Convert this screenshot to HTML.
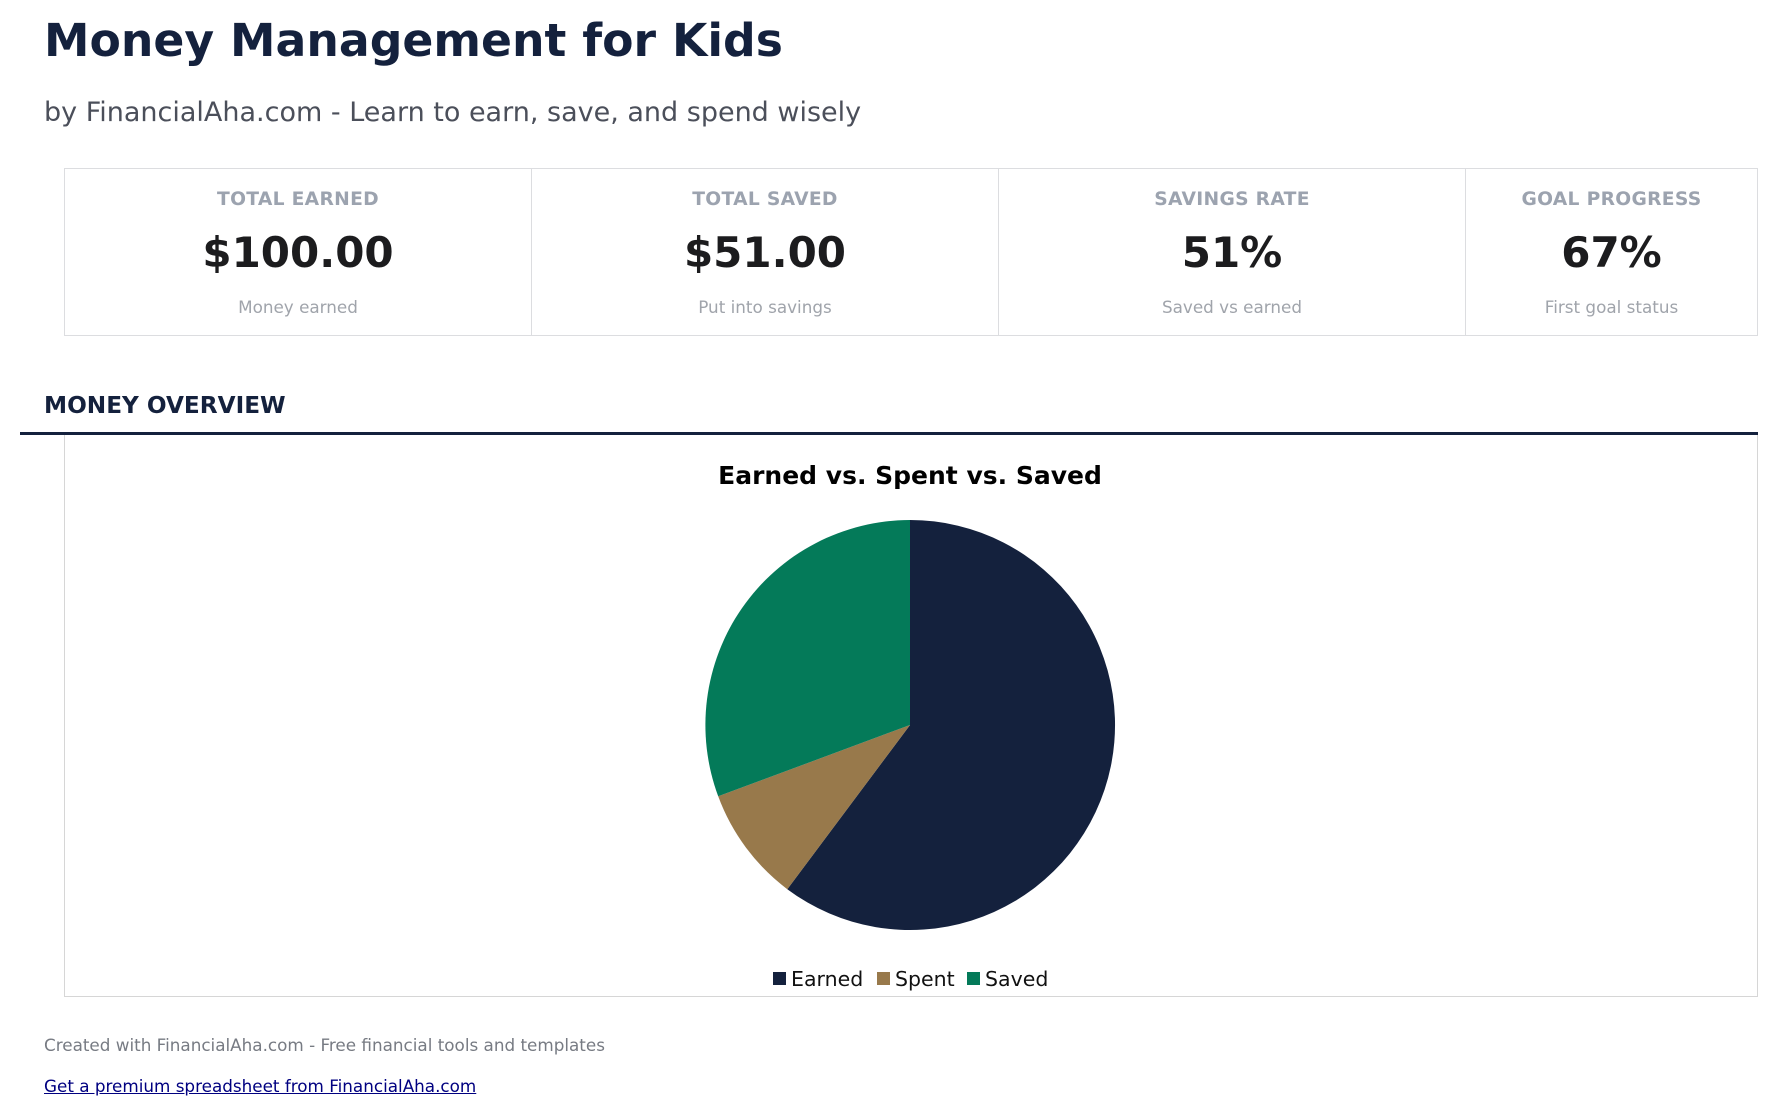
<!DOCTYPE html>
<html><head><meta charset="utf-8"><style>
*{margin:0;padding:0;box-sizing:border-box}
body{width:1777px;height:1116px;background:#fff;font-family:"DejaVu Sans","Liberation Sans",sans-serif;position:relative;overflow:hidden}
.a{position:absolute;white-space:nowrap}
.card{position:absolute;top:168px;height:168px;border:1.5px solid #dcdde0;text-align:center}
.lab{position:absolute;left:0;right:0;top:20px;font-size:18.7px;font-weight:bold;color:#9ca3af;letter-spacing:0.3px}
.val{position:absolute;left:0;right:0;top:59px;font-size:42px;font-weight:bold;color:#1c1c1e}
.sub{position:absolute;left:0;right:0;top:128px;font-size:16.8px;color:#a0a4ab}
</style></head><body>
<div class="a" style="left:44px;top:14px;font-size:45.7px;font-weight:bold;color:#14213d">Money Management for Kids</div>
<div class="a" style="left:44px;top:97px;font-size:27px;color:#4b4f5a">by FinancialAha.com - Learn to earn, save, and spend wisely</div>

<div class="card" style="left:64px;width:468px"><div class="lab">TOTAL EARNED</div><div class="val">$100.00</div><div class="sub">Money earned</div></div>
<div class="card" style="left:531px;width:468px"><div class="lab">TOTAL SAVED</div><div class="val">$51.00</div><div class="sub">Put into savings</div></div>
<div class="card" style="left:998px;width:468px"><div class="lab">SAVINGS RATE</div><div class="val">51%</div><div class="sub">Saved vs earned</div></div>
<div class="card" style="left:1465px;width:293px"><div class="lab">GOAL PROGRESS</div><div class="val">67%</div><div class="sub">First goal status</div></div>

<div class="a" style="left:44px;top:392px;font-size:23.2px;font-weight:bold;color:#14213d">MONEY OVERVIEW</div>
<div class="a" style="left:64px;top:434px;width:1694px;height:563px;border:1.5px solid #d6d6d6;border-top:none"></div>
<div class="a" style="left:20px;top:432px;width:1738px;height:2.5px;background:#14213d"></div>

<div class="a" style="left:0;width:1820px;text-align:center;top:461px;font-size:25px;font-weight:bold;color:#000">Earned vs. Spent vs. Saved</div>

<svg class="a" style="left:0;top:0" width="1777" height="1116">
<path d="M910,725 L910,520 A205,205 0 1,1 787.3,889.2 Z" fill="#14213d"/>
<path d="M910,725 L787.3,889.2 A205,205 0 0,1 718.2,796.3 Z" fill="#98794b"/>
<path d="M910,725 L718.2,796.3 A205,205 0 0,1 910,520 Z" fill="#047a59"/>
<rect x="773" y="972" width="13" height="13" fill="#14213d"/>
<rect x="877" y="972" width="13" height="13" fill="#98794b"/>
<rect x="967" y="972" width="13" height="13" fill="#047a59"/>
<text x="791" y="986" font-family="DejaVu Sans, sans-serif" font-size="20.5" fill="#111">Earned</text>
<text x="895" y="986" font-family="DejaVu Sans, sans-serif" font-size="20.5" fill="#111">Spent</text>
<text x="985" y="986" font-family="DejaVu Sans, sans-serif" font-size="20.5" fill="#111">Saved</text>
</svg>

<div class="a" style="left:44px;top:1035px;font-size:16.8px;color:#777b83">Created with FinancialAha.com - Free financial tools and templates</div>
<div class="a" style="left:44px;top:1076px;font-size:16.8px;color:#000080;text-decoration:underline">Get a premium spreadsheet from FinancialAha.com</div>
</body></html>
